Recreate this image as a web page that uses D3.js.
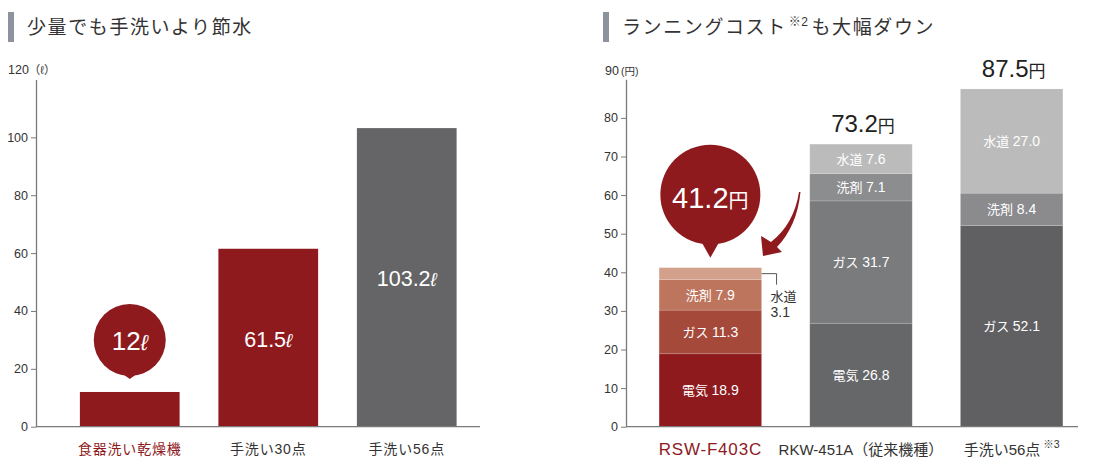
<!DOCTYPE html>
<html>
<head>
<meta charset="utf-8">
<script src="https://cdn.jsdelivr.net/npm/d3@7"></script>
<style>
  body { margin: 0; background: #fff; }
  text { font-family: "Liberation Sans", "Noto Sans CJK JP", sans-serif; }
</style>
</head>
<body>
<div id="chart"></div>
<script>
// left chart: water use (litres)
const waterCats = ["食器洗い乾燥機", "手洗い30点", "手洗い56点"];
const waterValues = [12, 61.5, 103.2];
const waterTicks = [0, 20, 40, 60, 80, 100];

// right chart: running cost (yen), stacked
const costCats = ["RSW-F403C", "RKW-451A（従来機種）", "手洗い56点"];
const costKeys = ["電気", "ガス", "洗剤", "水道"];
const denki = [18.9, 26.8, 0];
const gas = [11.3, 31.7, 52.1];
const senzai = [7.9, 7.1, 8.4];
const suido = [3.1, 7.6, 27.0];
const costTotals = [41.2, 73.2, 87.5];
const costTicks = [0, 10, 20, 30, 40, 50, 60, 70, 80];

const RED = "#8e1a1e";
const TXT = "#333";
const AXIS = "#7a7a7a";

const svg = d3.select("#chart").append("svg")
  .attr("width", 1100)
  .attr("height", 470);

// ---- titles
function title(x, parts) {
  svg.append("rect").attr("x", x).attr("y", 12).attr("width", 6).attr("height", 30).attr("fill", "#8d939c");
  const t = svg.append("text")
    .attr("x", x + 19).attr("y", 34)
    .attr("font-size", 19).attr("letter-spacing", 1.6).attr("fill", TXT);
  let lift = 0;
  parts.forEach(p => {
    if (p.sup) {
      t.append("tspan").attr("font-size", 12).attr("dy", -8).attr("dx", 2).attr("letter-spacing", 0.5).text(p.sup);
      lift = 8;
    } else {
      t.append("tspan").attr("dy", lift).attr("dx", lift ? 3 : 0).text(p.t);
      lift = 0;
    }
  });
}
title(8, [{ t: "少量でも手洗いより節水" }]);
title(603, [{ t: "ランニングコスト" }, { sup: "※2" }, { t: "も大幅ダウン" }]);

// ---- left chart
const yL = d3.scaleLinear().domain([0, 120]).range([426.7, 79.5]);
const xL = d3.scaleBand().domain(waterCats).range([60.5, 476]).paddingInner(0.28).paddingOuter(0.14);
const leftG = svg.append("g");

const axL = leftG.append("g")
  .attr("transform", "translate(36,0)")
  .call(d3.axisLeft(yL).tickValues(waterTicks).tickSize(5).tickSizeOuter(0).tickPadding(3));
axL.select(".domain").attr("stroke", AXIS).attr("stroke-width", 1.3);
axL.selectAll(".tick line").attr("stroke", AXIS);
axL.selectAll(".tick text").attr("font-size", 12.5).attr("fill", TXT)
  .style("font-family", "'Liberation Sans', sans-serif");

const unitL = leftG.append("text").attr("x", 8).attr("y", 74).attr("font-size", 12.5).attr("fill", TXT);
unitL.append("tspan").text("120");
unitL.append("tspan").attr("font-size", 11.5).text("（ℓ）");

leftG.selectAll("rect.bar")
  .data(waterValues)
  .join("rect")
  .attr("class", "bar")
  .attr("x", (d, i) => xL(waterCats[i]))
  .attr("width", xL.bandwidth())
  .attr("y", d => yL(d))
  .attr("height", d => yL(0) - yL(d))
  .attr("fill", (d, i) => i === 2 ? "#656567" : RED);

leftG.append("line").attr("x1", 36).attr("x2", 480).attr("y1", yL(0)).attr("y2", yL(0))
  .attr("stroke", AXIS).attr("stroke-width", 1.3);

// value labels inside the taller bars
waterValues.forEach((v, i) => {
  if (i === 0) return;
  const cx = xL(waterCats[i]) + xL.bandwidth() / 2;
  const t = leftG.append("text")
    .attr("x", cx).attr("y", (yL(v) + yL(0)) / 2 + 9)
    .attr("text-anchor", "middle").attr("fill", "#fff").attr("font-size", 21.5);
  t.append("tspan").text(v);
  t.append("tspan").attr("font-size", 19).attr("font-style", "italic").text("ℓ");
});

// bubble for the first bar
{
  const cx = xL(waterCats[0]) + xL.bandwidth() / 2;
  const tip = yL(waterValues[0]) - 13;
  const cy = tip - 39, r = 36;
  leftG.append("path")
    .attr("d", `M${cx - 7},${cy + r - 2} L${cx},${tip} L${cx + 7},${cy + r - 2} Z`)
    .attr("fill", RED);
  leftG.append("circle").attr("cx", cx).attr("cy", cy).attr("r", r).attr("fill", RED);
  const t = leftG.append("text").attr("x", cx).attr("y", cy + 10)
    .attr("text-anchor", "middle").attr("fill", "#fff").attr("font-size", 26);
  t.append("tspan").text(waterValues[0]);
  t.append("tspan").attr("font-size", 22).attr("font-style", "italic").text("ℓ");
}

leftG.selectAll("text.xlab")
  .data(waterCats)
  .join("text")
  .attr("class", "xlab")
  .attr("x", d => xL(d) + xL.bandwidth() / 2)
  .attr("y", 454)
  .attr("text-anchor", "middle")
  .attr("font-size", 14)
  .attr("letter-spacing", 0.8)
  .attr("fill", (d, i) => i === 0 ? RED : TXT)
  .text(d => d);

// ---- right chart
const yR = d3.scaleLinear().domain([0, 90]).range([426.7, 79.3]);
const xR = d3.scaleBand().domain(costCats).range([629, 1093]).paddingInner(0.32).paddingOuter(0.2);
const rightG = svg.append("g");

const axR = rightG.append("g")
  .attr("transform", "translate(626,0)")
  .call(d3.axisLeft(yR).tickValues(costTicks).tickSize(5).tickSizeOuter(0).tickPadding(3));
axR.select(".domain").attr("stroke", AXIS).attr("stroke-width", 1.3);
axR.selectAll(".tick line").attr("stroke", AXIS);
axR.selectAll(".tick text").attr("font-size", 12.5).attr("fill", TXT)
  .style("font-family", "'Liberation Sans', sans-serif");

const unitR = rightG.append("text").attr("x", 605).attr("y", 75).attr("font-size", 12.5).attr("fill", TXT);
unitR.append("tspan").text("90");
unitR.append("tspan").attr("font-size", 10.5).attr("dx", 2).text("(円)");

const costRows = costCats.map((c, i) => ({
  cat: c, "電気": denki[i], "ガス": gas[i], "洗剤": senzai[i], "水道": suido[i]
}));
const stacked = d3.stack().keys(costKeys)(costRows);

const segColors = [
  ["#8e1a1e", "#a5493a", "#bd755d", "#d3a18b"],
  ["#666769", "#7a7b7d", "#8c8d8f", "#bbbbbc"],
  ["#606062", "#606062", "#8b8b8d", "#bbbbbb"]
];

const layers = rightG.selectAll("g.layer")
  .data(stacked)
  .join("g")
  .attr("class", "layer");

layers.selectAll("rect")
  .data((s, k) => s.map((d, i) => ({ d, i, k })))
  .join("rect")
  .attr("x", o => xR(costCats[o.i]))
  .attr("width", xR.bandwidth())
  .attr("y", o => yR(o.d[1]))
  .attr("height", o => yR(o.d[0]) - yR(o.d[1]))
  .attr("fill", o => segColors[o.i][o.k])
  .attr("stroke", "#fff")
  .attr("stroke-opacity", 0.18)
  .attr("stroke-width", 0.8);

// segment labels
stacked.forEach((s, k) => {
  s.forEach((d, i) => {
    const v = d[1] - d[0];
    if (v === 0) return;
    if (i === 0 && k === 3) return; // small 水道 segment labelled outside
    const t = rightG.append("text")
      .attr("x", xR(costCats[i]) + xR.bandwidth() / 2)
      .attr("y", yR((d[0] + d[1]) / 2) + 5)
      .attr("text-anchor", "middle")
      .attr("fill", "#fff")
      .attr("font-size", 13);
    t.append("tspan").text(costKeys[k] + " ");
    t.append("tspan").attr("font-size", 14).text(v.toFixed(1));
  });
});

// callout for the small 水道 segment of the first bar
{
  const s = stacked[3][0];
  const x0 = xR(costCats[0]) + xR.bandwidth();
  const ym = yR((s[0] + s[1]) / 2);
  rightG.append("path")
    .attr("d", `M${x0},${ym} H${x0 + 15} V${ym + 11}`)
    .attr("fill", "none").attr("stroke", "#555").attr("stroke-width", 1);
  rightG.append("text").attr("x", x0 + 9).attr("y", ym + 27)
    .attr("font-size", 13).attr("fill", TXT).text(costKeys[3]);
  rightG.append("text").attr("x", x0 + 9).attr("y", ym + 43)
    .attr("font-size", 14).attr("fill", TXT).text(suido[0].toFixed(1));
}

// totals above the 2nd and 3rd bars
costTotals.forEach((v, i) => {
  if (i === 0) return;
  const t = rightG.append("text")
    .attr("x", xR(costCats[i]) + xR.bandwidth() / 2 + 2)
    .attr("y", yR(v) - 12)
    .attr("text-anchor", "middle")
    .attr("font-size", 24)
    .attr("fill", "#222");
  t.append("tspan").text(v.toFixed(1));
  t.append("tspan").attr("font-size", 17).text("円");
});

// bubble for the first bar
{
  const cx = xR(costCats[0]) + xR.bandwidth() / 2;
  const tip = yR(costTotals[0]) - 10;
  const cy = tip - 63, r = 50;
  rightG.append("path")
    .attr("d", `M${cx - 9},${cy + r - 3} L${cx},${tip} L${cx + 9},${cy + r - 3} Z`)
    .attr("fill", RED);
  rightG.append("circle").attr("cx", cx).attr("cy", cy).attr("r", r).attr("fill", RED);
  const t = rightG.append("text").attr("x", cx).attr("y", cy + 13)
    .attr("text-anchor", "middle").attr("fill", "#fff").attr("font-size", 29);
  t.append("tspan").text(costTotals[0].toFixed(1));
  t.append("tspan").attr("font-size", 20).text("円");

  // curved arrow pointing down to the bar
  rightG.append("path")
    .attr("d", "M799,192 Q794,224 771,242 L761,236 L763,256 L782,252 L777,247 Q797,226 800.5,192 Z")
    .attr("fill", RED);
}

rightG.append("line").attr("x1", 626).attr("x2", 1078).attr("y1", yR(0)).attr("y2", yR(0))
  .attr("stroke", AXIS).attr("stroke-width", 1.3);

// x labels
rightG.selectAll("text.xlab")
  .data(costCats)
  .join("text")
  .attr("class", "xlab")
  .attr("x", d => xR(d) + xR.bandwidth() / 2)
  .attr("y", 455)
  .attr("text-anchor", "middle")
  .attr("font-size", (d, i) => i === 0 ? 17 : 15)
  .attr("letter-spacing", (d, i) => i === 0 ? 0.8 : 0)
  .attr("fill", (d, i) => i === 0 ? RED : TXT)
  .each(function (d, i) {
    const t = d3.select(this);
    t.append("tspan").text(d);
    if (i === 2) {
      t.append("tspan").attr("font-size", 10.5).attr("dy", -7).attr("dx", 3).text("※3");
    }
  });
</script>
</body>
</html>
